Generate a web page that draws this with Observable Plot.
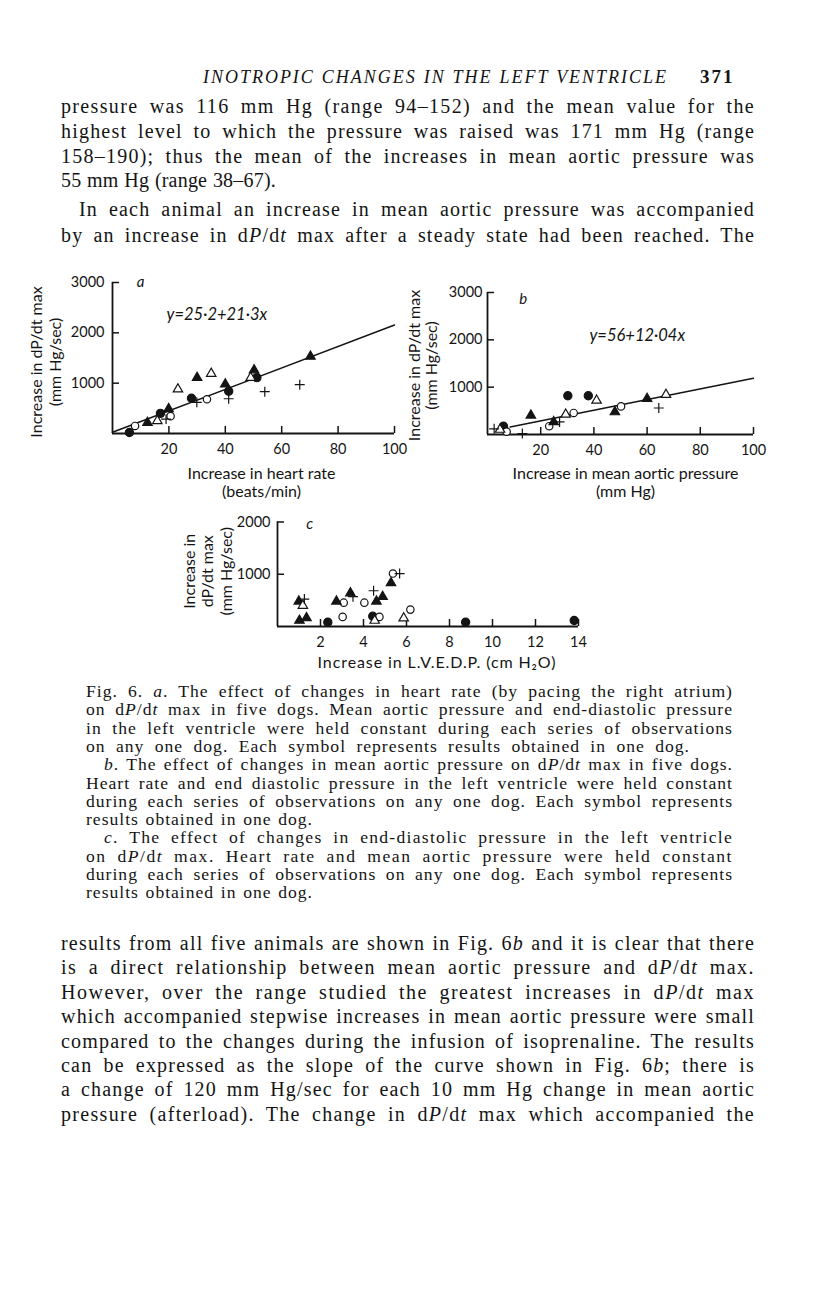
<!DOCTYPE html>
<html><head><meta charset="utf-8">
<script src="https://cdn.jsdelivr.net/npm/d3@7"></script>
<script src="https://cdn.jsdelivr.net/npm/@observablehq/plot@0.6"></script>
<style>
html,body{margin:0;padding:0;background:#fff;}
#page{position:relative;width:816px;height:1296px;overflow:hidden;background:#fff;color:#141414;font-family:"Liberation Serif","Times New Roman",serif;}
.ln{position:absolute;left:61px;font-size:20px;line-height:24px;letter-spacing:1.2px;white-space:nowrap;}
.cp{position:absolute;left:86px;font-size:17.6px;line-height:18px;letter-spacing:1px;white-space:nowrap;}
.cp.ind{left:104px;}
.hdr{position:absolute;top:67px;left:203px;font-size:18px;font-style:italic;letter-spacing:2.4px;white-space:nowrap;}
.pg{position:absolute;top:66px;left:700px;font-size:19px;font-weight:bold;letter-spacing:2px;}
.panel{position:absolute;}
</style>
</head><body>
<div id="page">
  <div class="hdr" data-w="465">INOTROPIC CHANGES IN THE LEFT VENTRICLE</div>
  <div class="pg">371</div>

  <div class="ln" data-w="694" style="top:94px">pressure was 116 mm Hg (range 94–152) and the mean value for the</div>
  <div class="ln" data-w="694" style="top:119px">highest level to which the pressure was raised was 171 mm Hg (range</div>
  <div class="ln" data-w="694" style="top:144px">158–190); thus the mean of the increases in mean aortic pressure was</div>
  <div class="ln" data-w="215" style="top:168px">55 mm Hg (range 38–67).</div>
  <div class="ln" data-w="676" style="top:197px;left:79px">In each animal an increase in mean aortic pressure was accompanied</div>
  <div class="ln" data-w="694" style="top:223px">by an increase in d<i>P</i>/d<i>t</i> max after a steady state had been reached. The</div>

  <div id="pa" class="panel" style="left:0px;top:262px;width:420px;height:250px"></div>
  <div id="pb" class="panel" style="left:400px;top:262px;width:416px;height:250px"></div>
  <div id="pc" class="panel" style="left:160px;top:505px;width:440px;height:175px"></div>

  <div class="cp" data-w="647" style="top:682px">Fig. 6. <i>a</i>. The effect of changes in heart rate (by pacing the right atrium)</div>
  <div class="cp" data-w="647" style="top:700.3px">on d<i>P</i>/d<i>t</i> max in five dogs. Mean aortic pressure and end-diastolic pressure</div>
  <div class="cp" data-w="647" style="top:718.6px">in the left ventricle were held constant during each series of observations</div>
  <div class="cp" data-w="604" style="top:736.9px">on any one dog. Each symbol represents results obtained in one dog.</div>
  <div class="cp ind" data-w="629" style="top:755.2px"><i>b</i>. The effect of changes in mean aortic pressure on d<i>P</i>/d<i>t</i> max in five dogs.</div>
  <div class="cp" data-w="647" style="top:773.5px">Heart rate and end diastolic pressure in the left ventricle were held constant</div>
  <div class="cp" data-w="647" style="top:791.8px">during each series of observations on any one dog. Each symbol represents</div>
  <div class="cp" data-w="227" style="top:810.1px">results obtained in one dog.</div>
  <div class="cp ind" data-w="629" style="top:828.4px"><i>c</i>. The effect of changes in end-diastolic pressure in the left ventricle</div>
  <div class="cp" data-w="647" style="top:846.7px">on d<i>P</i>/d<i>t</i> max. Heart rate and mean aortic pressure were held constant</div>
  <div class="cp" data-w="647" style="top:865px">during each series of observations on any one dog. Each symbol represents</div>
  <div class="cp" data-w="227" style="top:883.3px">results obtained in one dog.</div>

  <div class="ln" data-w="694" style="top:931px">results from all five animals are shown in Fig. 6<i>b</i> and it is clear that there</div>
  <div class="ln" data-w="694" style="top:955.4px">is a direct relationship between mean aortic pressure and d<i>P</i>/d<i>t</i> max.</div>
  <div class="ln" data-w="694" style="top:979.8px">However, over the range studied the greatest increases in d<i>P</i>/d<i>t</i> max</div>
  <div class="ln" data-w="694" style="top:1004.2px">which accompanied stepwise increases in mean aortic pressure were small</div>
  <div class="ln" data-w="694" style="top:1028.6px">compared to the changes during the infusion of isoprenaline. The results</div>
  <div class="ln" data-w="694" style="top:1053px">can be expressed as the slope of the curve shown in Fig. 6<i>b</i>; there is</div>
  <div class="ln" data-w="694" style="top:1077.4px">a change of 120 mm Hg/sec for each 10 mm Hg change in mean aortic</div>
  <div class="ln" data-w="694" style="top:1101.8px">pressure (afterload). The change in d<i>P</i>/d<i>t</i> max which accompanied the</div>
</div>

<script>
// ---------- DATA ----------
// Dogs: A = filled circle, B = open circle, C = filled triangle, D = open triangle, E = plus
// Panel a: increase in heart rate (beats/min) vs increase in dP/dt max (mm Hg/sec)
const heartRate = [6, 17, 28, 41.2, 51.2,  8, 20.6, 33.5,  12.4, 19.9, 30, 40, 50.2, 70.2,  15.9, 23.2, 35, 49,  19, 29.9, 41.2, 54, 66.4];
const dPdtA     = [20, 400, 700, 840, 1110,  150, 345, 680,  215, 490, 1110, 980, 1260, 1530,  250, 880, 1190, 1110,  285, 620, 690, 830, 970];
const dogA      = ["A","A","A","A","A", "B","B","B", "C","C","C","C","C","C", "D","D","D","D", "E","E","E","E","E"];
const fitAx = [0, 100];
const fitAy = [25, 2155];

// Panel b: increase in mean aortic pressure (mm Hg)
const aorticPressure = [6, 30.2, 37.9,  7.2, 23.2, 32.4, 50.2,  16.3, 24.9, 47.9, 60,  4.7, 29.4, 41, 67.1,  2.5, 13.1, 27.1, 64.4];
const dPdtB          = [175, 818, 818,  60, 175, 455, 594,  405, 265, 475, 755,  105, 425, 720, 840,  120, 20, 265, 560];
const dogB           = ["A","A","A", "B","B","B","B", "C","C","C","C", "D","D","D","D", "E","E","E","E"];
const fitBx = [8.5, 100];
const fitBy = [160, 1190];

// Panel c: increase in L.V.E.D.P. (cm H2O)
const lvedp = [2.34, 4.43, 8.75, 13.8,  3.03, 3.08, 4.04, 4.74, 5.37, 6.18,  0.99, 1.02, 1.35, 2.74, 3.39, 4.6, 4.89, 5.28,  1.18, 4.52, 5.87,  1.25, 3.51, 4.47, 5.68];
const dPdtC = [82, 196, 82, 114,  184, 456, 456, 184, 1013, 323,  481, 114, 165, 481, 640, 481, 570, 835,  400, 114, 158,  525, 570, 684, 1013];
const dogC  = ["A","A","A","A", "B","B","B","B","B","B", "C","C","C","C","C","C","C","C", "D","D","D", "E","E","E","E"];

// Tick labels
const xTicksA = [20, 40, 60, 80, 100];
const xTicksB = [20, 40, 60, 80, 100];
const xTicksC = [2, 4, 6, 8, 10, 12, 14];
const yTicksAB = [1000, 2000, 3000];
const yTicksC = [1000, 2000];

// ---------- STYLE ----------
const ink = "#141414";
const font = "Lato, 'Open Sans', sans-serif";
const dogStyle = {
  A: {symbol: "circle",   fill: ink,     stroke: ink, r: 4.1},
  B: {symbol: "circle",   fill: "white", stroke: ink, r: 3.7},
  C: {symbol: "triangle", fill: ink,     stroke: ink, r: 3.5},
  D: {symbol: "triangle", fill: "white", stroke: ink, r: 3.5},
  E: {symbol: "plus",     fill: "none",  stroke: ink, r: 3.3}
};

function panel(cfg) {
  const idx = d3.range(cfg.xs.length);
  const marks = [
    Plot.line(d3.range(cfg.fitX.length), {x: i => cfg.fitX[i], y: i => cfg.fitY[i], stroke: ink, strokeWidth: 1.5}),
    Plot.ruleY([0], {stroke: ink, strokeWidth: 1.8}),
    Plot.ruleX([0], {stroke: ink, strokeWidth: 1.8}),
    Plot.axisX(cfg.xTicks, {anchor: "bottom", tickSize: -7, tickPadding: 17, strokeWidth: 1.5, stroke: ink, fill: ink, fontSize: 14.5, tickFormat: "d", label: null}),
    Plot.axisY(cfg.yTicks, {anchor: "left", tickSize: -7, tickPadding: cfg.yPad, strokeWidth: 1.5, stroke: ink, fill: ink, fontSize: 14.5, tickFormat: "d", label: null}),
    ...Object.keys(dogStyle).map(k => {
      const s = dogStyle[k];
      return Plot.dot(idx.filter(i => cfg.dogs[i] === k), {
        x: i => cfg.xs[i], y: i => cfg.ys[i],
        symbol: s.symbol, fill: s.fill, stroke: s.stroke, r: s.r, strokeWidth: 1.2
      });
    }),
    Plot.text([cfg.letter.text], {x: cfg.letter.x, y: cfg.letter.y, fontSize: 15, fontStyle: "italic", fill: ink}),
    Plot.text([cfg.xLabel], {frameAnchor: "bottom", textAnchor: "middle", dx: cfg.xLabelDx, dy: cfg.xLabelDy, lineAnchor: "middle", lineHeight: 1.13, fontSize: 16, fill: ink}),
    Plot.text([cfg.yLabel], {frameAnchor: "left", textAnchor: "middle", rotate: -90, dx: cfg.yLabelDx, dy: cfg.yLabelDy, lineAnchor: "middle", lineHeight: cfg.yLabelLH, fontSize: 16, fill: ink})
  ];
  if (cfg.eq) marks.push(Plot.text([cfg.eq.text], {x: cfg.eq.x, y: cfg.eq.y, fontSize: 16.5, fontStyle: "italic", fill: ink}));
  const chart = Plot.plot({
    width: cfg.width, height: cfg.height,
    marginLeft: cfg.m[0], marginRight: cfg.m[1], marginTop: cfg.m[2], marginBottom: cfg.m[3],
    x: {domain: cfg.xDomain, label: null},
    y: {domain: cfg.yDomain, label: null},
    style: {fontFamily: font, fontSize: "14px", color: ink, background: "transparent", overflow: "visible"},
    marks
  });
  document.getElementById(cfg.id).append(chart);
  return chart;
}

panel({
  id: "pa", width: 420, height: 250, m: [112, 26, 20, 79],
  xs: heartRate, ys: dPdtA, dogs: dogA, fitX: fitAx, fitY: fitAy,
  xDomain: [0, 100], yDomain: [0, 3000], xTicks: xTicksA, yTicks: yTicksAB, yPad: 15,
  letter: {text: "a", x: 10, y: 3010},
  eq: {text: "y=25·2+21·3x", x: 37, y: 2350},
  xLabel: "Increase in heart rate\n(beats/min)", xLabelDx: 8, xLabelDy: 49,
  yLabel: "Increase in dP/dt max\n(mm Hg/sec)", yLabelDx: -67, yLabelDy: 4, yLabelLH: 1.15
});

panel({
  id: "pb", width: 416, height: 250, m: [87, 63, 30, 78],
  xs: aorticPressure, ys: dPdtB, dogs: dogB, fitX: fitBx, fitY: fitBy,
  xDomain: [0, 100], yDomain: [0, 3000], xTicks: xTicksB, yTicks: yTicksAB, yPad: 12,
  letter: {text: "b", x: 13.4, y: 2860},
  eq: {text: "y=56+12·04x", x: 56.3, y: 2090},
  xLabel: "Increase in mean aortic pressure\n(mm Hg)", xLabelDx: 5, xLabelDy: 48,
  yLabel: "Increase in dP/dt max\n(mm Hg/sec)", yLabelDx: -64, yLabelDy: 2, yLabelLH: 1.05
});

const chartC = panel({
  id: "pc", width: 440, height: 175, m: [117, 22, 16.5, 54],
  xs: lvedp, ys: dPdtC, dogs: dogC, fitX: [], fitY: [],
  xDomain: [0, 14], yDomain: [0, 2000], xTicks: xTicksC, yTicks: yTicksC, yPad: 14,
  letter: {text: "c", x: 1.5, y: 1950},
  eq: null,
  xLabel: "Increase in L.V.E.D.P. (cm H₂O)", xLabelDx: 9, xLabelDy: 36,
  yLabel: "Increase in\ndP/dt max\n(mm Hg/sec)", yLabelDx: -70, yLabelDy: -3, yLabelLH: 1.15
});
chartC.querySelectorAll("text").forEach(t => {
  if (t.textContent.startsWith("Increase in L.V")) t.style.letterSpacing = "0.9px";
});

// ---------- justify printed lines to the measured widths ----------
function fitLine(el, target) {
  const span = document.createElement("span");
  while (el.firstChild) span.appendChild(el.firstChild);
  el.appendChild(span);
  const text = span.textContent;
  const spaces = (text.match(/ /g) || []).length;
  const chars = text.length;
  let ls = parseFloat(getComputedStyle(el).letterSpacing) || 0;
  let w = span.getBoundingClientRect().width;
  let ws = spaces ? (target - w) / spaces : 0;
  if (!spaces || ws < 0.5 || ws > 5) {
    const want = spaces ? (ws < 0.5 ? 0.5 : 5) : 0;
    ls += (target - w - spaces * want) / chars;
    el.style.letterSpacing = ls + "px";
    w = span.getBoundingClientRect().width;
    ws = spaces ? (target - w) / spaces : 0;
  }
  el.style.wordSpacing = ws + "px";
}
document.querySelectorAll("[data-w]").forEach(el => fitLine(el, +el.dataset.w));
</script>
</body></html>
